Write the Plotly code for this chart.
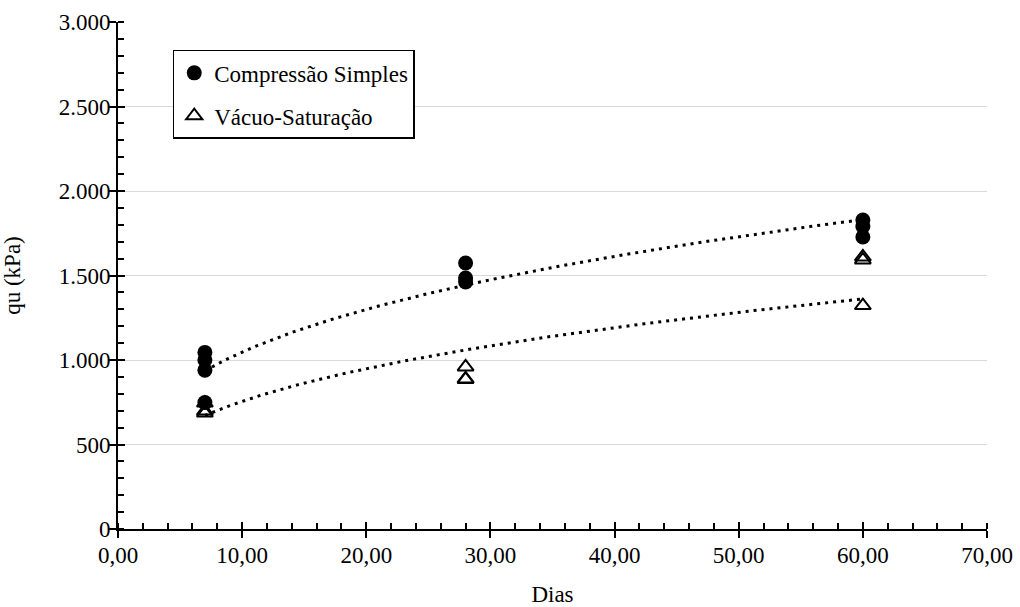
import numpy as np
import plotly.graph_objects as go

# Curing age (days) and unconfined compressive strength qu (kPa)
dias_cs = [7, 7, 7, 7, 28, 28, 28, 60, 60, 60]
qu_cs = [1045, 1000, 940, 748, 1574, 1485, 1462, 1828, 1790, 1728]

dias_vs = [7, 7, 7, 28, 28, 28, 60, 60, 60]
qu_vs = [745, 698, 686, 959, 888, 885, 1610, 1592, 1322]

FONT = "Liberation Serif, Times New Roman, serif"
FS = 23


def power_fit(x, y):
    """Least-squares power trendline y = a * x^b (fit in log-log space)."""
    lx, ly = np.log(np.asarray(x, float)), np.log(np.asarray(y, float))
    b, ln_a = np.polyfit(lx, ly, 1)
    return np.exp(ln_a), b


def trend_curve(x, y):
    a, b = power_fit(x, y)
    xs = np.linspace(min(x), max(x), 200)
    return xs, a * xs ** b


fig = go.Figure()

# trendlines
for xd, yd in ((dias_cs, qu_cs), (dias_vs, qu_vs)):
    tx, ty = trend_curve(xd, yd)
    fig.add_trace(go.Scatter(
        x=tx, y=ty, mode="lines", showlegend=False, hoverinfo="skip",
        line=dict(color="black", width=3, dash="3px,5px"),
    ))

# vacuum-saturation points (drawn beneath the circles)
fig.add_trace(go.Scatter(
    x=dias_vs, y=qu_vs, mode="markers", name="Vácuo-Saturação",
    legendrank=2, legendgroup="vs",
    marker=dict(symbol="triangle-up-open", size=14, color="black",
                line=dict(color="black", width=2)),
))

# unconfined compression points
fig.add_trace(go.Scatter(
    x=dias_cs, y=qu_cs, mode="markers", name="Compressão Simples",
    legendrank=1, legendgroup="cs",
    marker=dict(symbol="circle", size=15, color="black"),
))

axis_common = dict(
    showline=True, linecolor="black", linewidth=2,
    ticks="outside", ticklen=7, tickwidth=2, tickcolor="black",
    tickfont=dict(family=FONT, size=FS, color="black"),
    zeroline=False, automargin=False,
)

fig.update_layout(
    width=1020, height=607,
    margin=dict(l=118, r=33, t=22, b=78),
    paper_bgcolor="white", plot_bgcolor="white",
    separators=",.",
    font=dict(family=FONT, size=FS, color="black"),
    xaxis=dict(
        range=[0, 70], dtick=10, tick0=0, tickformat=".2f",
        showgrid=False, ticklabelstandoff=-3,
        minor=dict(dtick=2, ticks="inside", ticklen=6, tickwidth=2,
                   tickcolor="black", showgrid=False),
        title=dict(text="Dias", font=dict(family=FONT, size=FS), standoff=19),
        **axis_common,
    ),
    yaxis=dict(
        range=[0, 3000], dtick=500, tick0=0, tickformat=",d",
        showgrid=True, gridcolor="#d9d9d9", gridwidth=1, ticklabelstandoff=-6,
        minor=dict(dtick=100, ticks="inside", ticklen=6, tickwidth=2,
                   tickcolor="black", showgrid=False),
        title=dict(text="qu (kPa)", font=dict(family=FONT, size=FS), standoff=34),
        **axis_common,
    ),
    # inner halves of the major ticks so they cross the axis lines
    xaxis2=dict(
        overlaying="x", anchor="y", side="bottom", range=[0, 70], dtick=10,
        tick0=0, ticks="inside", ticklen=7, tickwidth=2, tickcolor="black",
        showticklabels=False, showgrid=False, zeroline=False, showline=False,
    ),
    yaxis2=dict(
        overlaying="y", anchor="x", side="left", range=[0, 3000], dtick=500,
        tick0=0, ticks="inside", ticklen=7, tickwidth=2, tickcolor="black",
        showticklabels=False, showgrid=False, zeroline=False, showline=False,
    ),
    legend=dict(
        x=0.063, y=0.945, xanchor="left", yanchor="top",
        bgcolor="white", bordercolor="black", borderwidth=1.5,
        font=dict(family=FONT, size=FS, color="black"),
        traceorder="grouped", tracegroupgap=10,
        itemwidth=30,
    ),
)

# empty trace so the overlay axes are drawn
fig.add_trace(go.Scatter(x=[None], y=[None], xaxis="x2", yaxis="y2",
                         showlegend=False, hoverinfo="skip"))

fig.write_html("out.html")
